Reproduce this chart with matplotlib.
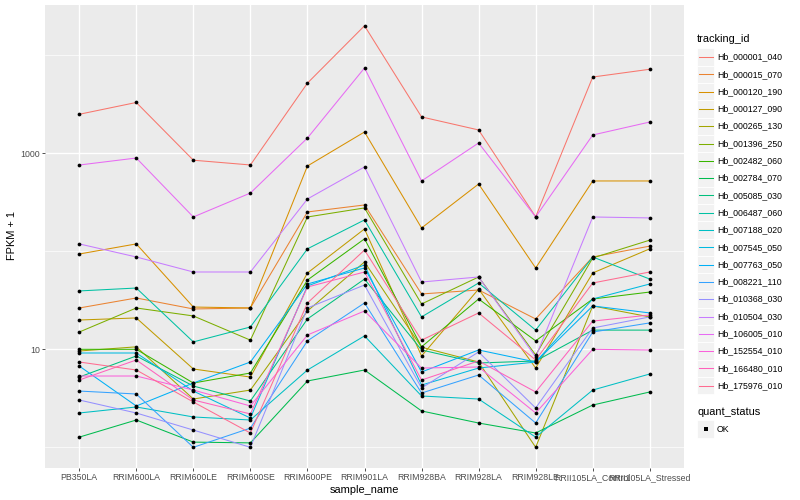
import numpy as np
import matplotlib
matplotlib.use('Agg')
import matplotlib.pyplot as plt
from matplotlib.patches import Rectangle

plt.rcParams['font.family'] = ['Liberation Sans', 'DejaVu Sans']

# x categories
samples = ['PB350LA', 'RRIM600LA', 'RRIM600LE', 'RRIM600SE', 'RRIM600PE', 'RRIM901LA',
           'RRIM928BA', 'RRIM928LA', 'RRIM928LE', 'RRII105LA_Control', 'RRII105LA_Stressed']

tracking_ids = ['Hb_000001_040', 'Hb_000015_070', 'Hb_000120_190', 'Hb_000127_090',
                'Hb_000265_130', 'Hb_001396_250', 'Hb_002482_060', 'Hb_002784_070',
                'Hb_005085_030', 'Hb_006487_060', 'Hb_007188_020', 'Hb_007545_050',
                'Hb_007763_050', 'Hb_008221_110', 'Hb_010368_030', 'Hb_010504_030',
                'Hb_106005_010', 'Hb_152554_010', 'Hb_166480_010', 'Hb_175976_010']

# ggplot default hue palette, 20 levels
colours = ['#F8766D', '#EA8331', '#D89000', '#C09B00', '#A3A500', '#7CAE00', '#39B600',
           '#00BB4E', '#00BF7D', '#00C1A3', '#00BFC4', '#00BAE0', '#00B0F6', '#35A2FF',
           '#9590FF', '#C77CFF', '#E76BF3', '#FA62DB', '#FF62BC', '#FF6C91']

# FPKM + 1, one list per gene
hb_000001_040 = [2500, 3300, 850, 760, 5200, 20000, 2350, 1730, 225, 6000, 7200]
hb_000015_070 = [26.4, 33.4, 25.8, 26.4, 252, 297, 36.7, 40.3, 20.4, 87.5, 113]
hb_000120_190 = [93.8, 119, 27.0, 26.4, 742, 1650, 173, 486, 67.6, 522, 522]
hb_000127_090 = [19.9, 20.9, 6.30, 5.21, 60.1, 169, 8.55, 41.2, 6.44, 60.1, 106]
hb_000265_130 = [9.61, 10.6, 3.11, 3.84, 24.6, 77.8, 10.5, 7.42, 1.0, 27.7, 21.4]
hb_001396_250 = [15.0, 26.4, 21.9, 12.4, 224, 277, 29.0, 54.7, 8.75, 85.5, 130]
hb_002482_060 = [10.0, 10.0, 4.53, 5.73, 50.9, 134, 10.6, 32.6, 12.2, 32.6, 38.4]
hb_002784_070 = [1.27, 1.90, 1.13, 1.11, 4.75, 6.15, 2.35, 1.77, 1.40, 2.70, 3.67]
hb_005085_030 = [5.21, 8.55, 4.22, 2.97, 20.4, 52.1, 9.84, 7.25, 7.60, 15.7, 15.7]
hb_006487_060 = [39.4, 42.2, 11.9, 16.9, 106, 209, 21.4, 47.5, 15.7, 87.5, 52.1]
hb_007188_020 = [2.24, 2.58, 2.04, 1.90, 6.15, 13.7, 3.34, 3.11, 1.27, 3.84, 5.60]
hb_007545_050 = [9.17, 9.17, 3.75, 1.99, 44.3, 72.5, 4.32, 6.44, 7.42, 32.6, 46.4]
hb_007763_050 = [6.75, 2.64, 4.53, 7.42, 46.4, 67.6, 5.87, 9.84, 7.42, 27.7, 23.5]
hb_008221_110 = [3.75, 3.50, 1.0, 1.57, 12.2, 29.7, 3.58, 5.47, 1.77, 15.0, 18.6]
hb_010368_030 = [3.04, 2.24, 1.50, 1.0, 26.4, 45.3, 4.03, 9.39, 2.52, 16.5, 21.4]
hb_010504_030 = [119, 87.5, 61.5, 61.5, 342, 725, 48.6, 54.7, 8.35, 224, 219]
hb_106005_010 = [759, 895, 224, 393, 1432, 7420, 522, 1274, 224, 1537, 2085]
hb_152554_010 = [5.34, 5.34, 3.84, 2.64, 14.0, 24.6, 6.44, 6.60, 2.24, 10.0, 9.84]
hb_166480_010 = [4.86, 7.78, 3.04, 2.19, 43.2, 61.5, 4.86, 7.60, 3.67, 19.4, 22.4]
hb_175976_010 = [7.42, 6.15, 2.90, 1.40, 29.7, 103, 12.4, 23.5, 7.78, 47.5, 61.5]

series = [hb_000001_040, hb_000015_070, hb_000120_190, hb_000127_090, hb_000265_130,
          hb_001396_250, hb_002482_060, hb_002784_070, hb_005085_030, hb_006487_060,
          hb_007188_020, hb_007545_050, hb_007763_050, hb_008221_110, hb_010368_030,
          hb_010504_030, hb_106005_010, hb_152554_010, hb_166480_010, hb_175976_010]

W, H = 800, 500
fig = plt.figure(figsize=(8, 5), dpi=100)
ax = fig.add_axes([45 / W, 32 / H, 639 / W, 463 / H])
ax.set_facecolor('#EBEBEB')
for s in ax.spines.values():
    s.set_visible(False)

x = np.arange(len(samples))
for vals, c in zip(series, colours):
    ax.plot(x, vals, color=c, lw=0.75, zorder=2)
for vals in series:
    ax.plot(x, vals, 'o', color='black', ms=2.7, mew=0, zorder=3)

ax.set_yscale('log')
ax.set_ylim(10 ** -0.211, 10 ** 4.513)
ax.set_xlim(-0.6, len(samples) - 0.4)
ax.set_yticks([10, 1000])
ax.set_yticklabels(['10', '1000'])
ax.set_yticks([1, 100, 10000], minor=True)
ax.set_yticklabels([], minor=True)
ax.set_xticks(x)
ax.set_xticklabels(samples)
ax.grid(which='major', color='white', lw=1.0)
ax.grid(which='minor', axis='y', color='white', lw=0.5)
ax.set_axisbelow(True)
ax.tick_params(which='major', length=2, width=0.6, color='#333333', labelcolor='#4D4D4D',
               labelsize=6.3, pad=1.6)
ax.tick_params(which='minor', length=0)

fig.text(364 / W, 1 - 490 / H, 'sample_name', ha='center', va='center', fontsize=7.9)
fig.text(12 / W, 1 - 236 / H, 'FPKM + 1', ha='center', va='center', rotation=90, fontsize=7.9)

# legend drawn in pixel coordinates
lax = fig.add_axes([0, 0, 1, 1])
lax.set_xlim(0, W)
lax.set_ylim(H, 0)
lax.axis('off')
lax.text(697, 39, 'tracking_id', ha='left', va='center', fontsize=7.9)
step = 17.3
for i, (name, c) in enumerate(zip(tracking_ids, colours)):
    yc = 57 + i * step
    lax.add_patch(Rectangle((697, yc - step / 2), step, step, facecolor='#F2F2F2',
                            edgecolor='white', lw=0.6))
    lax.plot([698.5, 712.5], [yc, yc], color=c, lw=0.75)
    lax.text(717, yc, name, ha='left', va='center', fontsize=6.3)

lax.text(697, 412, 'quant_status', ha='left', va='center', fontsize=7.9)
lax.add_patch(Rectangle((697, 429 - step / 2), step, step, facecolor='#F2F2F2',
                        edgecolor='white', lw=0.6))
lax.plot([705.6], [429], 's', color='black', ms=2.2, mew=0)
lax.text(717, 429, 'OK', ha='left', va='center', fontsize=6.3)

fig.savefig('out.png', dpi=100)
